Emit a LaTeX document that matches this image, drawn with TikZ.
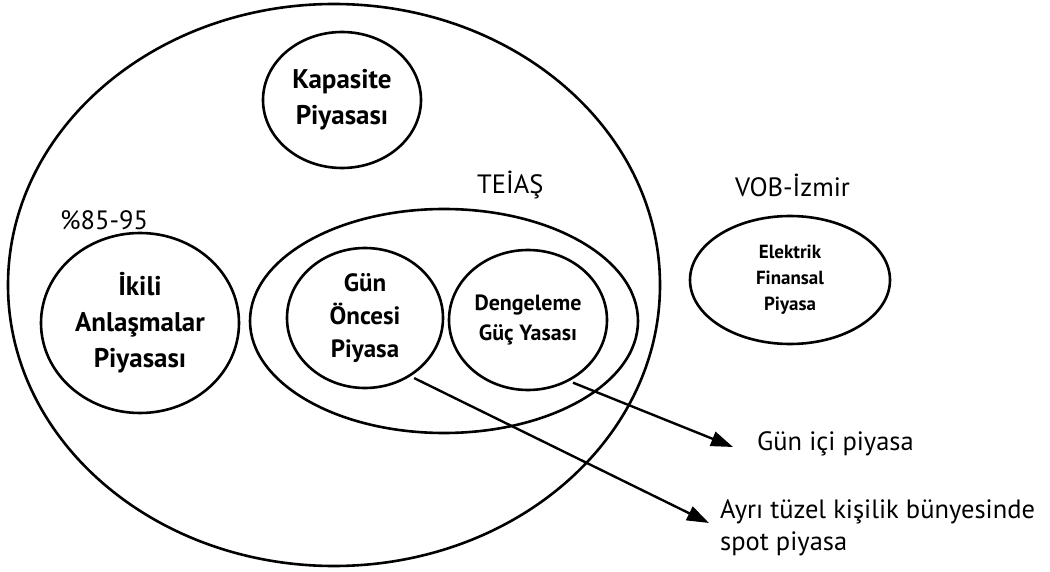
\documentclass[tikz,border=0pt]{standalone}
\usepackage{fontspec}
\setmainfont{PT Sans}
\usetikzlibrary{arrows.meta,shapes.geometric}

\begin{document}
\begin{tikzpicture}[x=1pt,y=-1pt,
  ring/.style={draw=black, line width=2.6pt, ellipse, inner sep=0pt, align=center},
  bigtxt/.style={font=\bfseries\fontsize{27}{36}\selectfont},
  midtxt/.style={font=\bfseries\fontsize{25}{33}\selectfont},
  smalltxt/.style={font=\bfseries\fontsize{22}{30}\selectfont},
  tinytxt/.style={font=\bfseries\fontsize{19}{26}\selectfont},
  lbl/.style={font=\fontsize{26.5}{32}\selectfont, inner sep=0pt, align=left},
  link/.style={line width=2.4pt, shorten <=4pt, -{Triangle[length=22pt,width=15pt]}}]
\useasboundingbox (0,0) rectangle (1050,572);

% market structure
\node[ring, minimum width=652pt, minimum height=562pt] (market) at (334,285) {};
\node[ring, bigtxt, minimum width=158pt, minimum height=136pt] (capacity) at (342,100)
  {Kapasite\\Piyasası};
\node[ring, bigtxt, minimum width=198pt, minimum height=180pt] (bilateral) at (140,323)
  {İkili\\Anlaşmalar\\Piyasası};
\node[ring, minimum width=388pt, minimum height=224pt] (teias) at (444,321) {};
\node[ring, midtxt, minimum width=156pt, minimum height=140pt] (dayahead) at (365,318)
  {Gün\\Öncesi\\Piyasa};
\node[ring, smalltxt, minimum width=158pt, minimum height=140pt] (balancing) at (528,320)
  {Dengeleme\\Güç Yasası};
\node[ring, tinytxt, minimum width=200pt, minimum height=128pt] (futures) at (790,280)
  {Elektrik\\Finansal\\Piyasa};

% labels
\node[lbl, anchor=base west] (teiaslbl) at (477,194) {TEİAŞ};
\node[lbl, anchor=base west] (voblbl) at (735,197) {VOB-İzmir};
\node[lbl, anchor=base west] (sharelbl) at (60,230) {\%85-95};
\node[lbl, anchor=base west] (intradaylbl) at (757,450) {Gün içi piyasa};
\node[lbl, anchor=base west] (spotlbl) at (720,550) {Ayrı tüzel kişilik bünyesinde\\spot piyasa};

% arrows
\coordinate (intradaytip) at (733,447);
\coordinate (spottip) at (709,523);
\draw[link] (balancing.-56) -- (intradaytip);
\draw[link] (dayahead.-52) -- (spottip);
\end{tikzpicture}
\end{document}
